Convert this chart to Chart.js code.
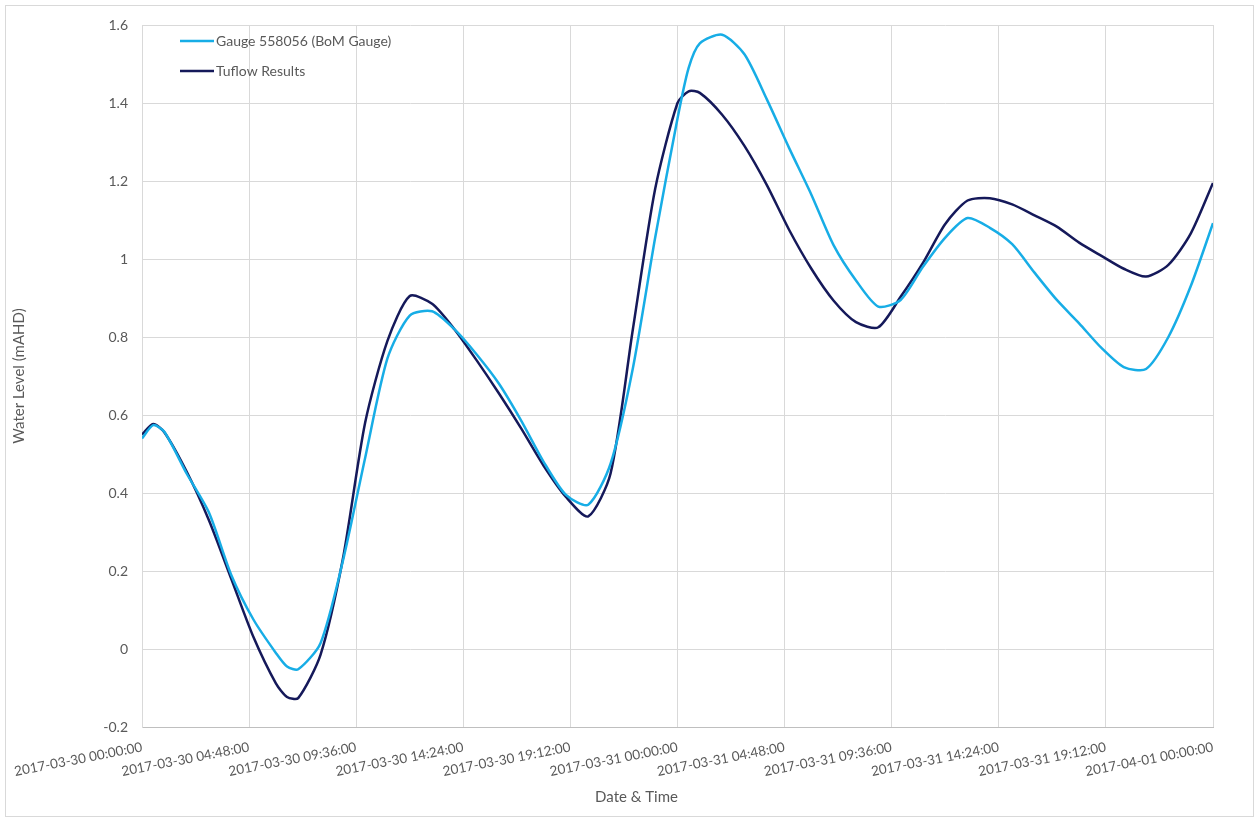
<!DOCTYPE html>
<html>
<head>
<meta charset="utf-8">
<script src="https://cdn.jsdelivr.net/npm/chart.js@4.4.1/dist/chart.umd.min.js"></script>
<style>
html,body{margin:0;padding:0;background:#fff;}
#wrap{position:relative;width:1259px;height:821px;}
</style>
</head>
<body>
<div id="wrap"><canvas id="chart1" width="1259" height="821"></canvas></div>
<script>
// hours since 2017-03-30 00:00
const hours = [0,0.5,1,2,3,4,5,6,6.5,7,8,9,10,11,12,13,14,15,16,17,18,19,20,21,22,23,24,24.5,
  25,26,27,28,29,30,31,32,33,34,35,36,37,38,39,40,41,42,43,44,45,46,47,48];

const gauge = [0.54,0.574,0.557,0.45,0.35,0.19,0.075,-0.01,-0.045,-0.052,0.015,0.225,0.49,0.745,0.855,
  0.866,0.82,0.755,0.68,0.585,0.48,0.395,0.37,0.475,0.72,1.055,1.36,1.49,1.553,1.575,1.525,
  1.41,1.285,1.165,1.035,0.945,0.878,0.895,0.98,1.055,1.105,1.08,1.038,0.965,0.895,
  0.835,0.772,0.723,0.718,0.8,0.93,1.092];

const tuflow = [0.55,0.577,0.556,0.455,0.33,0.18,0.03,-0.088,-0.123,-0.126,-0.015,0.23,0.58,0.79,0.905,
  0.885,0.82,0.74,0.655,0.565,0.47,0.39,0.34,0.45,0.82,1.18,1.4,1.43,1.426,1.37,1.29,
  1.19,1.075,0.975,0.893,0.838,0.825,0.903,0.99,1.09,1.15,1.156,1.14,1.112,1.083,
  1.042,1.008,0.975,0.955,0.985,1.065,1.195];

const x_ticks = [0,4.8,9.6,14.4,19.2,24,28.8,33.6,38.4,43.2,48];
const x_labels = ['2017-03-30 00:00:00','2017-03-30 04:48:00','2017-03-30 09:36:00',
  '2017-03-30 14:24:00','2017-03-30 19:12:00','2017-03-31 00:00:00','2017-03-31 04:48:00',
  '2017-03-31 09:36:00','2017-03-31 14:24:00','2017-03-31 19:12:00','2017-04-01 00:00:00'];

const series_names = ['Gauge 558056 (BoM Gauge)','Tuflow Results'];
const series_colors = ['#17ADE6','#15195A'];

const FONT = 'Lato, "Open Sans", sans-serif';
const GREY = '#595959';

let to_points = (vals) => vals.map((v,i)=>({x:hours[i], y:v}));

// frame + legend inside the plot + x title
const extras = {
  id:'extras',
  beforeDraw(chart){
    const c = chart.ctx;
    c.save();
    c.fillStyle='#fff';
    c.fillRect(0,0,chart.width,chart.height);
    c.strokeStyle='#D9D9D9';
    c.lineWidth=1;
    c.strokeRect(5.5,5.5,1248,811);
    c.restore();
  },
  afterDraw(chart){
    const c = chart.ctx, a = chart.chartArea;
    c.save();
    c.font = '14px ' + FONT;
    c.textBaseline='middle';
    chart.data.datasets.forEach((ds,i)=>{
      const y = a.top + 16 + i*30;
      c.strokeStyle = ds.borderColor;
      c.lineWidth = 2.5;
      c.beginPath();
      c.moveTo(a.left+38,y);
      c.lineTo(a.left+72,y);
      c.stroke();
      c.fillStyle = GREY;
      c.fillText(ds.label, a.left+74, y);
    });
    c.font = '15px ' + FONT;
    c.textAlign='center';
    c.fillText('Date & Time', (a.left+a.right)/2 - 41, 797);
    c.restore();
  }
};

const ctx = document.getElementById('chart1');
const chart = new Chart(ctx, {
  type:'line',
  data:{
    datasets:[
      {label:series_names[0], data:to_points(gauge), borderColor:series_colors[0], borderWidth:2.5, pointRadius:0, tension:0.25},
      {label:series_names[1], data:to_points(tuflow), borderColor:series_colors[1], borderWidth:2.5, pointRadius:0, tension:0.25}
    ]
  },
  options:{
    responsive:false,
    animation:false,
    layout:{padding:{left:5,right:46,top:25,bottom:0}},
    plugins:{legend:{display:false}, tooltip:{enabled:false}},
    scales:{
      x:{
        type:'linear', min:0, max:48,
        afterBuildTicks:(axis)=>{ axis.ticks = x_ticks.map(v=>({value:v})); },
        afterFit:(scale)=>{ scale.height = 94; },
        grid:{color:'#D9D9D9', drawTicks:false},
        border:{color:'#BFBFBF'},
        ticks:{
          autoSkip:false, maxRotation:11, minRotation:11, padding:12,
          color:GREY, font:{family:FONT, size:13.5},
          callback:(v,i)=> x_labels[i]
        }
      },
      y:{
        min:-0.2, max:1.6,
        afterFit:(scale)=>{ scale.width = 137; },
        grid:{color:'#D9D9D9', drawTicks:false},
        border:{color:'#D9D9D9'},
        ticks:{stepSize:0.2, padding:14, color:GREY, font:{family:FONT, size:14},
          callback:(v)=> String(Math.round(v*10)/10)},
        title:{display:true, text:'Water Level (mAHD)', color:GREY, font:{family:FONT, size:15}, padding:{top:5,bottom:0}}
      }
    }
  },
  plugins:[extras]
});
</script>
</body>
</html>
